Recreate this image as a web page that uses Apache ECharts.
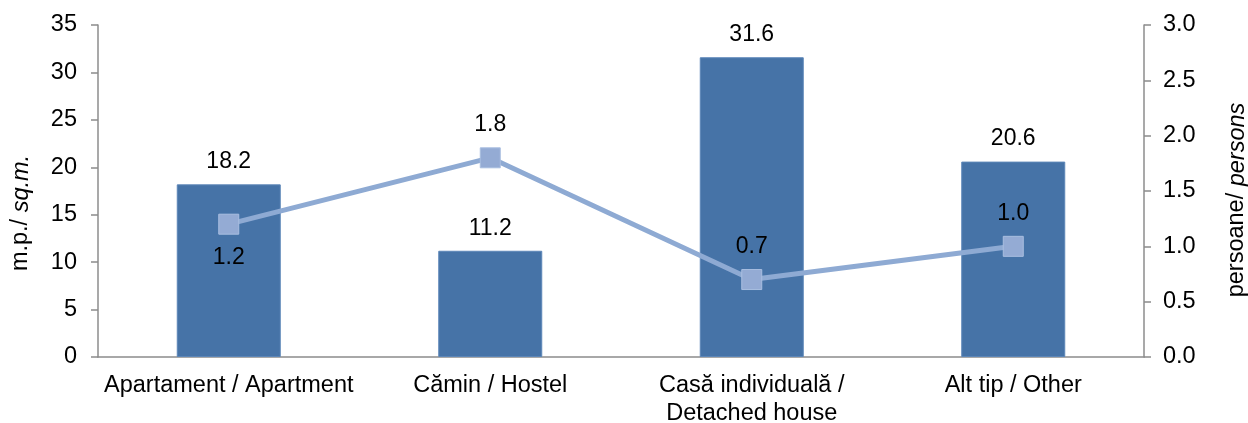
<!DOCTYPE html>
<html>
<head>
<meta charset="utf-8">
<script src="https://cdn.jsdelivr.net/npm/echarts@6/dist/echarts.min.js"></script>
<style>
html,body{margin:0;padding:0;background:#fff;}
#chart{width:1248px;height:423px;}
</style>
</head>
<body>
<div id="chart"></div>
<script>
const categories = ['Apartament / Apartment', 'Cămin / Hostel', 'Casă individuală /\nDetached house', 'Alt tip / Other'];
const areaValues = [18.2, 11.2, 31.6, 20.6];
const personValues = [1.2, 1.8, 0.7, 1.0];
const personLabelPos = ['bottom', 'top', 'top', 'top'];
const leftTicks = { min: 0, max: 35, interval: 5 };
const rightTicks = { min: 0, max: 3, interval: 0.5 };

const FONT = 'Liberation Sans, Arial, sans-serif';
const chart = echarts.init(document.getElementById('chart'), null, { renderer: 'canvas' });

const axisLineStyle = { color: '#8c8c8c', width: 1.5 };

chart.setOption({
  animation: false,
  backgroundColor: '#ffffff',
  textStyle: { fontFamily: FONT, color: '#000' },
  grid: { left: 98, right: 104, top: 25, bottom: 66, containLabel: false, outerBoundsMode: 'none' },
  xAxis: {
    type: 'category',
    data: categories,
    axisLine: { show: true, lineStyle: axisLineStyle },
    axisTick: { show: false },
    axisLabel: { fontSize: 23.5, fontFamily: FONT, color: '#000', margin: 15, lineHeight: 28, interval: 0 }
  },
  yAxis: [
    {
      type: 'value', min: leftTicks.min, max: leftTicks.max, interval: leftTicks.interval,
      axisLine: { show: true, lineStyle: axisLineStyle },
      axisTick: { show: true, inside: false, length: 7, lineStyle: axisLineStyle },
      splitLine: { show: false },
      axisLabel: { fontSize: 23.5, fontFamily: FONT, color: '#000', margin: 21 }
    },
    {
      type: 'value', min: rightTicks.min, max: rightTicks.max, interval: rightTicks.interval,
      position: 'right',
      axisLine: { show: true, lineStyle: axisLineStyle },
      axisTick: { show: true, inside: false, length: 7, lineStyle: axisLineStyle },
      splitLine: { show: false },
      axisLabel: { fontSize: 23.5, fontFamily: FONT, color: '#000', margin: 19, formatter: v => v.toFixed(1) }
    }
  ],
  series: [
    {
      type: 'bar',
      yAxisIndex: 0,
      data: areaValues,
      barWidth: 104,
      itemStyle: { color: '#4673a7', borderColor: '#5c86b8', borderWidth: 1 },
      label: { show: true, position: 'top', distance: 11, fontSize: 23, fontFamily: FONT, color: '#000', formatter: p => p.value.toFixed(1) },
      z: 2
    },
    {
      type: 'line',
      yAxisIndex: 1,
      data: personValues.map((v, i) => ({ value: v, label: { position: personLabelPos[i] } })),
      symbol: 'rect',
      symbolSize: 20,
      lineStyle: { color: '#8eaad3', width: 5 },
      itemStyle: { color: '#94abd4', borderColor: '#a9bee0', borderWidth: 1 },
      label: { show: true, distance: 11, fontSize: 23, fontFamily: FONT, color: '#000', formatter: p => p.value.toFixed(1) },
      z: 3
    }
  ],
  graphic: [
    {
      type: 'text', x: 21, y: 213, rotation: Math.PI / 2,
      style: {
        text: '{n|m.p./ }{i|sq.m.}', align: 'center', verticalAlign: 'middle',
        rich: {
          n: { fontSize: 23.5, fontFamily: FONT, fill: '#000' },
          i: { fontSize: 23.5, fontFamily: FONT, fontStyle: 'italic', fill: '#000' }
        }
      }
    },
    {
      type: 'text', x: 1237, y: 200, rotation: Math.PI / 2,
      style: {
        text: '{n|persoane/ }{i|persons}', align: 'center', verticalAlign: 'middle',
        rich: {
          n: { fontSize: 23.5, fontFamily: FONT, fill: '#000' },
          i: { fontSize: 23.5, fontFamily: FONT, fontStyle: 'italic', fill: '#000' }
        }
      }
    }
  ]
});
</script>
</body>
</html>
